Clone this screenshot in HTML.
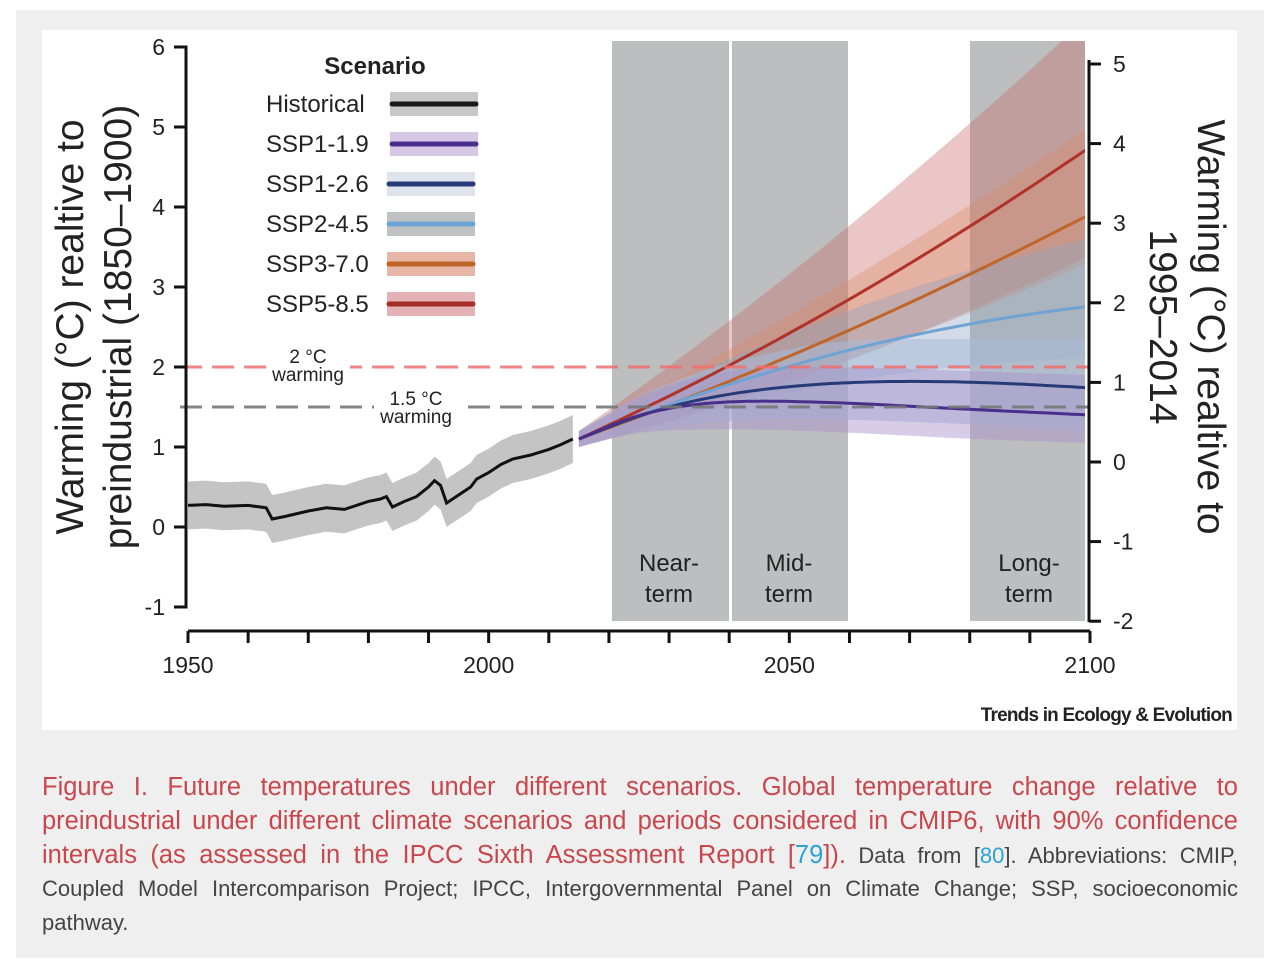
<!DOCTYPE html>
<html><head><meta charset="utf-8"><style>
body{margin:0;width:1282px;height:980px;background:#fff;font-family:"Liberation Sans",sans-serif;overflow:hidden}
#bg{position:absolute;left:16px;top:10px;width:1248px;height:948px;background:#efefef}
#panel{position:absolute;left:42px;top:30px;width:1195px;height:700px;background:#fff}
svg{position:absolute;left:0;top:0}
#cap{position:absolute;left:42px;top:770px;width:1196px;color:#444}
#cap div{height:34px;line-height:34px;white-space:nowrap;text-align:justify;text-align-last:justify}
#cap div.last{text-align-last:left}
.r{color:#c9474c;font-size:25.5px}
.s{font-size:22px}
.b{color:#2aa3d8}
</style></head><body>
<div id="bg"></div><div id="panel"></div>
<svg id="s" width="1282" height="980" font-family="Liberation Sans, sans-serif"></svg>
<div id="cap">
<div class="r">Figure I. Future temperatures under different scenarios. Global temperature change relative to</div>
<div class="r">preindustrial under different climate scenarios and periods considered in CMIP6, with 90% confidence</div>
<div><span class="r">intervals (as assessed in the IPCC Sixth Assessment Report [<span class="b">79</span>]).</span><span class="s"> Data from [<span class="b">80</span>]. Abbreviations: CMIP,</span></div>
<div class="s">Coupled Model Intercomparison Project; IPCC, Intergovernmental Panel on Climate Change; SSP, socioeconomic</div>
<div class="s last">pathway.</div>
</div>
<script>
const s=document.getElementById('s');let h='';
const X=y=>188+(y-1950)*902/150, Y=v=>527-80*v;
h+='<defs><clipPath id="c"><rect x="180" y="41" width="905" height="600"/></clipPath></defs>';
[[612,729],[732,848],[970,1085]].forEach(p=>h+=`<rect x="${p[0]}" y="41" width="${p[1]-p[0]}" height="580" fill="#bdbebf"/>`);
function lin(pts,yr){for(let i=0;i<pts.length-1;i++){const a=pts[i],b=pts[i+1];if(yr<=b[0]){const t=(yr-a[0])/(b[0]-a[0]);return [1,2,3].map(k=>a[k]+(b[k]-a[k])*t);}}return pts[pts.length-1].slice(1);}
function sm(pts){let o=[];for(let y=2015;y<=2100;y++)o.push([y].concat(lin(pts,y)));
 for(let pass=0;pass<3;pass++){const n=o.map((q,i)=>{if(i<3||i>o.length-4)return q;const r=[q[0]];for(let k=1;k<4;k++){let sum=0;for(let j=-3;j<=3;j++)sum+=o[i+j][k];r.push(sum/7);}return r;});o=n;}return o;}
function fn(A,B,dh,dl){const o=[];for(let y=2015;y<=2100;y+=5){const t=(y-2015)/85;const m=1.1+A*t+B*t*t;o.push([y,m,m-0.1-dl*t,m+0.1+dh*t]);}return o;}
const sc=[
 ['#c86a6a',0.38,'#b03228',fn(2.9,0.75,1.55,1.25)],
 ['#d98a60',0.35,'#c0652a',fn(2.3,0.51,1.0,0.5)],
 ['#8fa6c0',0.40,'#6fa3d4',fn(2.6,-0.94,0.75,0.55)],
 ['#a7bcd8',0.55,'#263a78',[[2015,1.1,1.0,1.2],[2025,1.4,1.2,1.65],[2035,1.6,1.3,1.95],[2045,1.72,1.35,2.15],[2055,1.79,1.35,2.3],[2065,1.82,1.33,2.35],[2075,1.82,1.3,2.35],[2085,1.8,1.27,2.35],[2095,1.76,1.22,2.35],[2100,1.74,1.2,2.35]]],
 ['#a990cc',0.45,'#4a2e8c',[[2015,1.1,1.0,1.2],[2025,1.42,1.2,1.65],[2035,1.55,1.22,1.9],[2045,1.58,1.22,2.0],[2060,1.55,1.18,2.0],[2080,1.47,1.1,1.95],[2100,1.4,1.05,1.9]]]];
let bands='',lines='';
sc.forEach(c=>{const p=sm(c[3]);let up=p.map(q=>X(q[0]).toFixed(1)+','+Y(q[3]).toFixed(1)),lo=p.slice().reverse().map(q=>X(q[0]).toFixed(1)+','+Y(q[2]).toFixed(1));
bands+=`<polygon points="${up.join(' ')} ${lo.join(' ')}" fill="${c[0]}" fill-opacity="${c[1]}"/>`;
lines+=`<polyline points="${p.map(q=>X(q[0]).toFixed(1)+','+Y(q[1]).toFixed(1)).join(' ')}" fill="none" stroke="${c[2]}" stroke-width="3"/>`;});
h+=`<g clip-path="url(#c)">${bands}${lines}</g>`;
const hp=[[1950,.27],[1953,.28],[1956,.26],[1960,.27],[1963,.24],[1964,.1],[1966,.13],[1970,.2],[1973,.24],[1976,.22],[1980,.32],[1982,.35],[1983,.38],[1984,.25],[1986,.32],[1988,.38],[1990,.5],[1991,.58],[1992,.52],[1993,.3],[1995,.4],[1997,.5],[1998,.6],[2000,.68],[2002,.78],[2004,.85],[2007,.9],[2010,.97],[2012,1.03],[2014,1.1]];
h+=`<polygon points="${hp.map(q=>X(q[0])+','+Y(q[1]+.3)).join(' ')} ${hp.slice().reverse().map(q=>X(q[0])+','+Y(q[1]-.3)).join(' ')}" fill="#c4c4c4"/>`;
h+=`<polyline points="${hp.map(q=>X(q[0])+','+Y(q[1])).join(' ')}" fill="none" stroke="#111" stroke-width="3"/>`;
h+=`<line x1="180" x2="1088" y1="367" y2="367" stroke="#ee6e6e" stroke-opacity=".85" stroke-width="3" stroke-dasharray="22,10"/>`;
h+=`<line x1="180" x2="1088" y1="407" y2="407" stroke="#777" stroke-opacity=".9" stroke-width="3" stroke-dasharray="22,10"/>`;
h+=`<rect x="268" y="347" width="82" height="36" fill="#fff"/><rect x="374" y="389" width="84" height="36" fill="#fff"/>`;
const T=(x,y,t,sz,a,ex)=>h+=`<text x="${x}" y="${y}" font-size="${sz}" text-anchor="${a||'start'}" fill="#222" ${ex||''}>${t}</text>`;
T(308,363,'2 °C',19,'middle');T(308,381,'warming',19,'middle');T(416,405,'1.5 °C',19,'middle');T(416,423,'warming',19,'middle');
h+=`<path d="M174,47H186V607H174" fill="none" stroke="#111" stroke-width="3"/>`;
for(let v=-1;v<=6;v++){h+=`<line x1="174" x2="186" y1="${Y(v)}" y2="${Y(v)}" stroke="#111" stroke-width="3"/>`;T(165,Y(v)+8,v,23,'end');}
h+=`<line x1="188" x2="1090" y1="631" y2="631" stroke="#111" stroke-width="3"/>`;
for(let y=1950;y<=2100;y+=10)h+=`<line x1="${X(y)}" x2="${X(y)}" y1="631" y2="643" stroke="#111" stroke-width="3"/>`;
[1950,2000,2050,2100].forEach(y=>T(X(y),673,y,23,'middle'));
h+=`<line x1="1089" x2="1089" y1="60" y2="622" stroke="#111" stroke-width="3"/>`;
for(let v=-2;v<=5;v++){const yy=462-79.6*v;h+=`<line x1="1089" x2="1101" y1="${yy}" y2="${yy}" stroke="#111" stroke-width="3"/>`;T(1113,yy+8,v,23,'start');}
h+=`<text transform="translate(83,327) rotate(-90)" font-size="39" text-anchor="middle" fill="#222">Warming (°C) realtive to</text>`;
h+=`<text transform="translate(131,327) rotate(-90)" font-size="39" text-anchor="middle" fill="#222">preindustrial (1850–1900)</text>`;
h+=`<text transform="translate(1198,327) rotate(90)" font-size="39" text-anchor="middle" fill="#222">Warming (°C) realtive to</text>`;
h+=`<text transform="translate(1150,327) rotate(90)" font-size="39" text-anchor="middle" fill="#222">1995–2014</text>`;
[[669,'Near-'],[789,'Mid-'],[1029,'Long-']].forEach(p=>{T(p[0],571,p[1],24,'middle');T(p[0],602,'term',24,'middle');});
T(375,74,'Scenario',24,'middle','font-weight="bold"');
const lg=[['Historical','#c8c8c8','#1a1a1a',390,478],['SSP1-1.9','#d6c8e4','#4a2e8c',390,478],['SSP1-2.6','#dfe4ec','#263a78',387,475],['SSP2-4.5','#bfc1c2','#6fa3d4',387,475],['SSP3-7.0','#e6b6a6','#c0652a',387,475],['SSP5-8.5','#e2b2b4','#a22e26',387,475]];
lg.forEach((l,i)=>{const y=104+i*40;h+=`<rect x="${l[3]}" y="${y-12}" width="${l[4]-l[3]}" height="24" fill="${l[1]}"/><line x1="${l[3]+2}" x2="${l[4]-2}" y1="${y}" y2="${y}" stroke="${l[2]}" stroke-width="5" stroke-linecap="round"/>`;T(266,y+8,l[0],24);});
T(1232,721,'Trends in Ecology &amp; Evolution',19,'end','font-weight="bold" letter-spacing="-0.8" fill="#111"');
s.innerHTML=h;
</script>
</body></html>
